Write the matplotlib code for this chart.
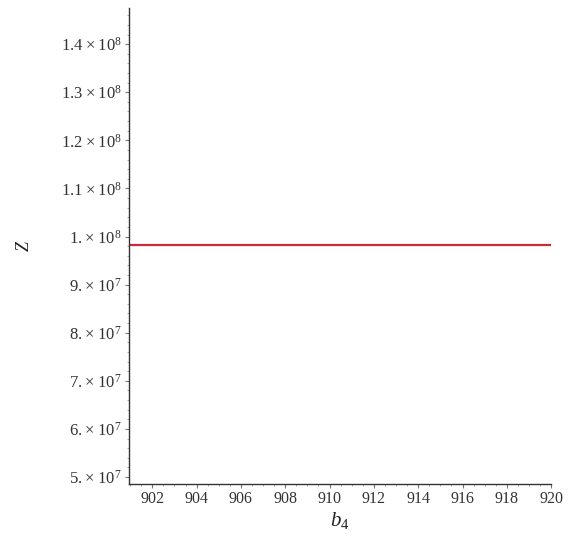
import matplotlib
matplotlib.use("Agg")
import matplotlib.pyplot as plt
from matplotlib.ticker import FixedLocator, FuncFormatter, AutoMinorLocator

b4 = [901, 920]
Z = [9.83e7, 9.83e7]
xticks = [902, 904, 906, 908, 910, 912, 914, 916, 918, 920]
yticks = [5e7, 6e7, 7e7, 8e7, 9e7, 1.0e8, 1.1e8, 1.2e8, 1.3e8, 1.4e8]

plt.rcParams['font.family'] = ['Liberation Serif', 'DejaVu Serif']
plt.rcParams['mathtext.fontset'] = 'custom'
plt.rcParams['mathtext.rm'] = 'Liberation Serif'
plt.rcParams['mathtext.it'] = 'Liberation Serif:italic'

fig = plt.figure(figsize=(5.69, 5.38), dpi=100)
ax = fig.add_axes([0.2267, 0.100, 0.742, 0.885])
ax.plot(b4, Z, color='#d0283a', lw=1.6)
ax.set_xlim(900.95, 920)
ax.set_ylim(4.85e7, 1.475e8)

def yfmt(v, pos):
    e = 0
    m = v
    while m >= 10:
        m /= 10
        e += 1
    s = ('%.1f' % m).rstrip('0')
    return '%s\u2009\u00d7\u200910$^{%d}$' % (s, e)

ax.yaxis.set_major_locator(FixedLocator(yticks))
ax.yaxis.set_major_formatter(FuncFormatter(yfmt))
ax.xaxis.set_major_locator(FixedLocator(xticks))
ax.xaxis.set_minor_locator(AutoMinorLocator(4))
ax.yaxis.set_minor_locator(AutoMinorLocator(5))
for s in ['top', 'right']:
    ax.spines[s].set_visible(False)
for s in ['left', 'bottom']:
    ax.spines[s].set_color('#333333')
    ax.spines[s].set_linewidth(1.0)
ax.tick_params(which='major', length=3, width=0.8, color='#777777', labelcolor='#333333', pad=2)
ax.tick_params(axis='y', labelsize=12)
ax.tick_params(axis='x', labelsize=11.5)
ax.tick_params(which='minor', length=1.5, width=0.6, color='#999999')
ax.set_xlabel(r'$b_4$', fontsize=15, labelpad=2, color='#222222')
ax.set_ylabel(r'$Z$', fontsize=13, labelpad=20, color='#222222')
fig.savefig('out.png', dpi=100)
